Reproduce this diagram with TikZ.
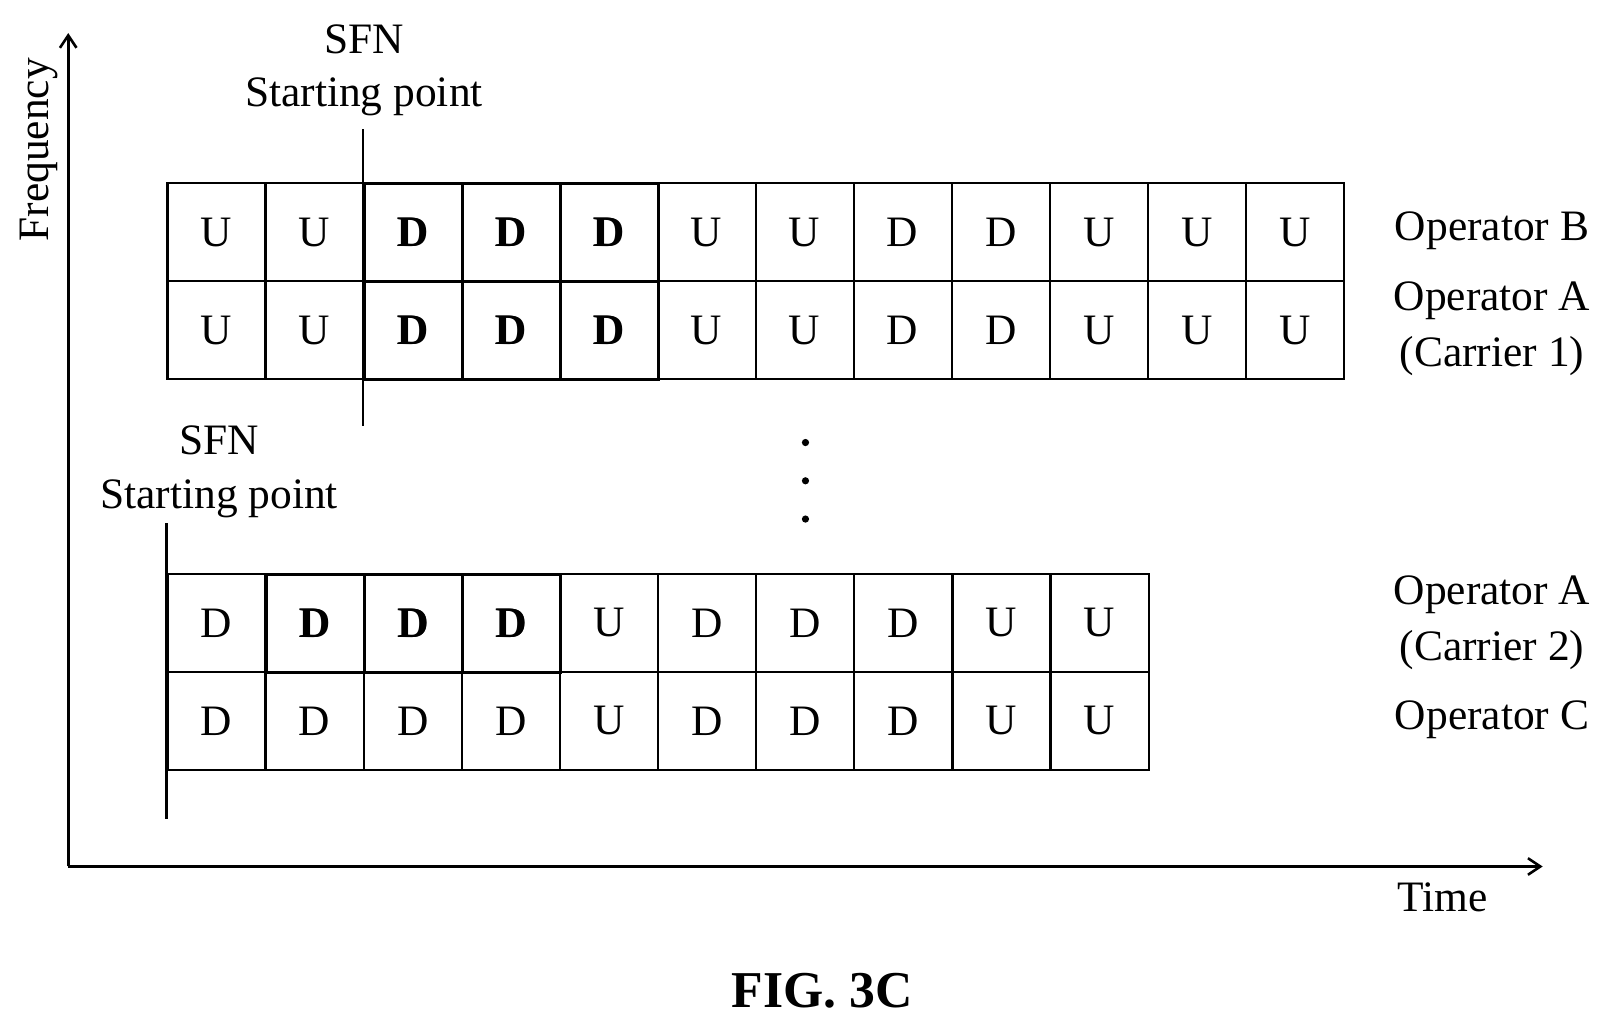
\documentclass[tikz,border=0pt]{standalone}
\usepackage{fontspec}
\setmainfont{Liberation Serif}
\usetikzlibrary{arrows.meta}
\begin{document}
\begin{tikzpicture}[x=1pt,y=-1pt,
  cell/.style={draw,line width=2pt,minimum width=94.8pt,minimum height=94.8pt,inner sep=0pt,anchor=north west,font=\fontsize{42}{46}\selectfont},
  bcell/.style={cell,line width=3pt,font=\fontsize{42}{46}\selectfont\bfseries},
  lab/.style={font=\fontsize{42}{54}\selectfont,align=center},
  ax/.style={line width=2.5pt,-{Straight Barb[length=12pt,width=16pt]}}]
\useasboundingbox (0,0) rectangle (1560,992);
\draw[ax] (66,838) coordinate (o) -- (66,32) coordinate (yt);
\draw[ax] (o) -- (1492,838) coordinate (xt);
\node[lab,rotate=90] (freq) at (38,145) {Frequency};
\node[lab] (time) at (1395,868) {Time};
\node[font=\fontsize{50}{56}\selectfont\bfseries] (fig) at (795,958) {FIG. 3C};
% top grid
\def\rowB{U,U,D,D,D,U,U,D,D,U,U,U}
\foreach \v [count=\i] in \rowB {
  \pgfmathsetmacro\xx{161+(\i-1)*94.8}
  \node[cell] (b\i) at (\xx,176) {\v};
  \node[cell] (a\i) at (\xx,270.8) {\v};}
\foreach \i in {3,4,5}{\node[bcell] at (b\i.north west) [anchor=north west] {D}; \node[bcell] at (a\i.north west) [anchor=north west] {D};}
% bottom grid
\def\rowC{D,D,D,D,U,D,D,D,U,U}
\foreach \v [count=\i] in \rowC {
  \pgfmathsetmacro\xx{161+(\i-1)*94.9}
  \node[cell] (c\i) at (\xx,554) {\v};
  \node[cell] (d\i) at (\xx,648.8) {\v};}
\foreach \i in {2,3,4}{\node[bcell] at (c\i.north west) [anchor=north west] {D};}
% SFN markers
\coordinate (s1t) at (351,125); \coordinate (s1b) at (351,412);
\draw[line width=2.5pt] (s1t) -- (s1b);
\node[lab] (sfn1) at (352,38) {SFN};
\node[lab] (sp1) at (352,94) {Starting point};
\coordinate (s2t) at (161,506); \coordinate (s2b) at (161,792);
\draw[line width=2.5pt] (s2t) -- (s2b);
\node[lab] (sfn2) at (212,426) {SFN};
\node[lab] (sp2) at (212,482) {Starting point};
% dots
\foreach \y [count=\k] in {428,465,502} \fill (779,\y) circle (3.5pt) coordinate (dot\k);
% operator labels
\node[lab] (opB) at (1443,223) {Operator B};
\node[lab] (opA1) at (1443,318) {Operator A\\(Carrier 1)};
\node[lab] (opA2) at (1443,602) {Operator A\\(Carrier 2)};
\node[lab] (opC) at (1443,696) {Operator C};
\end{tikzpicture}
\end{document}
